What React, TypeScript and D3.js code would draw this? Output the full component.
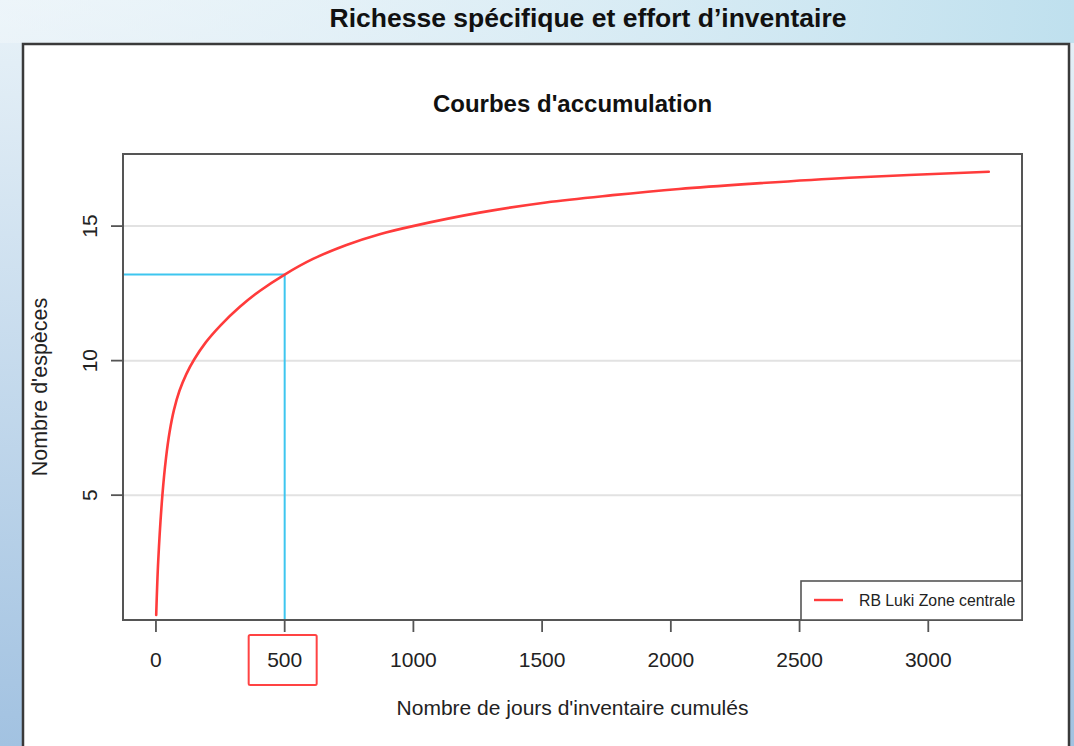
import React from "react";
import * as d3 from "d3";

// Cumulative inventory days (x) and expected number of species (y)
const effortDays = [1, 9, 25, 39, 53, 70, 91, 118, 149, 192, 252, 325, 403, 500, 610, 740, 869, 998, 1257, 1515, 1774, 2032, 2304, 2692, 3235];
const speciesCount = [0.55, 2.59, 5.0, 6.38, 7.35, 8.17, 8.87, 9.5, 10.05, 10.66, 11.32, 11.99, 12.59, 13.2, 13.78, 14.3, 14.7, 15.0, 15.5, 15.88, 16.15, 16.38, 16.57, 16.8, 17.02];

const xTicks = [0, 500, 1000, 1500, 2000, 2500, 3000];
const yTicks = [5, 10, 15];
const xLimits = [-128, 3364];
const yLimits = [0.36, 17.68];

// Effort level highlighted with the reference lines
const referenceDays = 500;

const seriesName = "RB Luki Zone centrale";
const slideTitle = "Richesse spécifique et effort d’inventaire";
const plotTitle = "Courbes d'accumulation";
const xTitle = "Nombre de jours d'inventaire cumulés";
const yTitle = "Nombre d'espèces";

const W = 1074;
const H = 746;
const plot = { left: 123, right: 1022, top: 154, bottom: 620 };
const font = "'Liberation Sans', Arial, Helvetica, sans-serif";

export default function App() {
  const x = d3.scaleLinear().domain(xLimits).range([plot.left, plot.right]);
  const y = d3.scaleLinear().domain(yLimits).range([plot.bottom, plot.top]);

  const points = effortDays.map((d, i) => [d, speciesCount[i]] as [number, number]);
  const line = d3
    .line<[number, number]>()
    .x((d) => x(d[0]))
    .y((d) => y(d[1]))
    .curve(d3.curveCatmullRom.alpha(0.5));

  const refIndex = effortDays.indexOf(referenceDays);
  const refSpecies = speciesCount[refIndex];
  const refX = x(referenceDays);
  const refY = y(refSpecies);

  return (
    <svg
      width={W}
      height={H}
      viewBox={`0 0 ${W} ${H}`}
      style={{ position: "absolute", left: 0, top: 0, display: "block" }}
    >
      <defs>
        <linearGradient id="bgV" x1="0" y1="0" x2="0" y2="1">
          <stop offset="0" stopColor="#e8f2f8" />
          <stop offset="1" stopColor="#a2c2e1" />
        </linearGradient>
        <linearGradient id="bgH" x1="0" y1="0" x2="1" y2="0">
          <stop offset="0" stopColor="#f2f8fb" stopOpacity="0.5" />
          <stop offset="1" stopColor="#bfe0ee" stopOpacity="1" />
        </linearGradient>
      </defs>

      {/* slide background */}
      <rect x={0} y={0} width={W} height={H} fill="url(#bgV)" />
      <rect x={0} y={0} width={W} height={43} fill="url(#bgH)" />

      <text
        x={588}
        y={27}
        textAnchor="middle"
        fontFamily={font}
        fontWeight="bold"
        fontSize={26.5}
        fill="#111"
      >
        {slideTitle}
      </text>

      {/* white panel holding the plot */}
      <rect x={23} y={44} width={1046} height={H} fill="#ffffff" stroke="#3a3a3a" strokeWidth={2.5} />

      <text
        x={(plot.left + plot.right) / 2}
        y={112}
        textAnchor="middle"
        fontFamily={font}
        fontWeight="bold"
        fontSize={24}
        fill="#111"
      >
        {plotTitle}
      </text>

      {/* horizontal grid */}
      {yTicks.map((t) => (
        <line key={`g${t}`} x1={plot.left} x2={plot.right} y1={y(t)} y2={y(t)} stroke="#e2e2e2" strokeWidth={2} />
      ))}

      {/* reference lines at the highlighted effort */}
      <line x1={plot.left} x2={refX} y1={refY} y2={refY} stroke="#3ec6ef" strokeWidth={2} />
      <line x1={refX} x2={refX} y1={refY} y2={plot.bottom} stroke="#3ec6ef" strokeWidth={2} />

      {/* accumulation curve */}
      <path d={line(points) ?? ""} fill="none" stroke="#ff3b3b" strokeWidth={2.6} strokeLinecap="round" />

      {/* plot frame */}
      <rect
        x={plot.left}
        y={plot.top}
        width={plot.right - plot.left}
        height={plot.bottom - plot.top}
        fill="none"
        stroke="#555"
        strokeWidth={2}
      />

      {/* x axis */}
      {xTicks.map((t) => (
        <g key={`x${t}`}>
          <line x1={x(t)} x2={x(t)} y1={plot.bottom} y2={plot.bottom + 12} stroke="#555" strokeWidth={1.8} />
          <text x={x(t)} y={667} textAnchor="middle" fontFamily={font} fontSize={21} fill="#222">
            {t}
          </text>
        </g>
      ))}
      <rect
        x={refX - 36}
        y={635}
        width={68}
        height={50}
        fill="none"
        stroke="#ff4343"
        strokeWidth={2}
        rx={1.5}
      />
      <text
        x={(plot.left + plot.right) / 2}
        y={715}
        textAnchor="middle"
        fontFamily={font}
        fontSize={21}
        fill="#222"
      >
        {xTitle}
      </text>

      {/* y axis */}
      {yTicks.map((t) => (
        <g key={`y${t}`}>
          <line x1={plot.left - 12} x2={plot.left} y1={y(t)} y2={y(t)} stroke="#555" strokeWidth={1.8} />
          <text
            transform={`translate(97,${y(t)}) rotate(-90)`}
            textAnchor="middle"
            fontFamily={font}
            fontSize={21}
            fill="#222"
          >
            {t}
          </text>
        </g>
      ))}
      <text
        transform={`translate(47,${(plot.top + plot.bottom) / 2}) rotate(-90)`}
        textAnchor="middle"
        fontFamily={font}
        fontSize={21.5}
        fill="#222"
      >
        {yTitle}
      </text>

      {/* legend */}
      <rect x={801} y={581} width={plot.right - 801} height={plot.bottom - 581} fill="#fff" stroke="#555" strokeWidth={1.6} />
      <line x1={814} x2={843} y1={600} y2={600} stroke="#ff3b3b" strokeWidth={2.4} />
      <text x={859} y={605.5} fontFamily={font} fontSize={15.8} fill="#222">
        {seriesName}
      </text>
    </svg>
  );
}
